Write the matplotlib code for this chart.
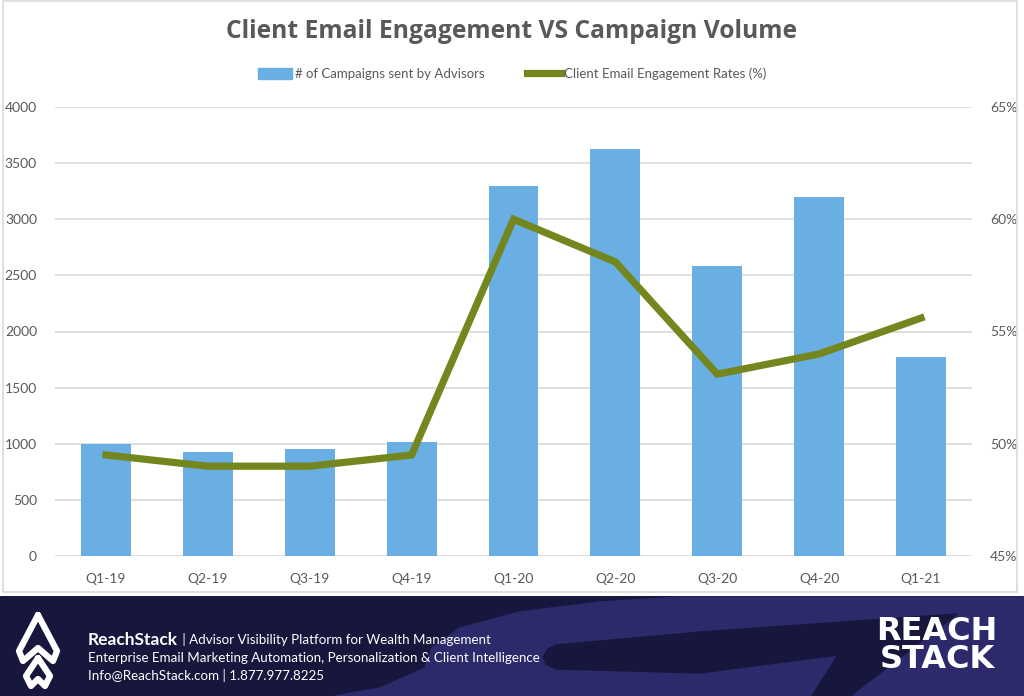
import matplotlib
matplotlib.use("Agg")
import matplotlib.pyplot as plt
import matplotlib.transforms as mtrans
from matplotlib.patches import Polygon, Rectangle
from matplotlib.lines import Line2D
from matplotlib.ticker import FuncFormatter

quarters = ["Q1-19", "Q2-19", "Q3-19", "Q4-19", "Q1-20", "Q2-20", "Q3-20", "Q4-20", "Q1-21"]
campaigns = [1000, 925, 955, 1015, 3300, 3630, 2580, 3195, 1775]
engagement = [49.5, 49.0, 49.0, 49.5, 60.0, 58.1, 53.1, 54.0, 55.6]

title = "Client Email Engagement VS Campaign Volume"
bar_label = "# of Campaigns sent by Advisors"
line_label = "Client Email Engagement Rates (%)"

BAR_C = "#69afe3"
LINE_C = "#74871f"
TXT_C = "#595959"
GRID_C = "#d9d9d9"
FONT = ["Lato", "DejaVu Sans"]

W, H = 1024, 696
fig = plt.figure(figsize=(W / 100, H / 100), dpi=100)
fig.patch.set_facecolor("white")

def fx(px):
    return px / W

def fy(py):
    return 1 - py / H

# outer chart border
fig.patches.append(Rectangle((fx(3), fy(592)), fx(1017) - fx(3), fy(1) - fy(592),
                             transform=fig.transFigure, fill=False, edgecolor=GRID_C, lw=1.2))

ax = fig.add_axes([fx(55), fy(556), fx(972) - fx(55), fy(107) - fy(556)])
x = list(range(len(quarters)))
ax.bar(x, campaigns, width=0.49, color=BAR_C, zorder=2, label=bar_label)
ax.set_xlim(-0.5, len(quarters) - 0.5)
ax.set_ylim(0, 4000)
ax.set_yticks(range(0, 4001, 500))
ax.yaxis.grid(True, color=GRID_C, lw=1.2, zorder=0)
ax.set_axisbelow(True)
for s in ax.spines.values():
    s.set_visible(False)
ax.tick_params(axis="both", length=0, colors=TXT_C, labelsize=10)
ax.tick_params(axis="y", pad=13)
ax.tick_params(axis="x", pad=12)
ax.set_xticks(x)
ax.set_xticklabels(quarters, family=FONT)
for t in ax.get_yticklabels():
    t.set_family(FONT)

ax2 = ax.twinx()
ax2.plot(x, engagement, color=LINE_C, lw=5.2, zorder=3, solid_joinstyle="miter", label=line_label)
ax2.set_ylim(45, 65)
ax2.set_yticks(range(45, 66, 5))
ax2.yaxis.set_major_formatter(FuncFormatter(lambda v, p: f"{int(v)}%"))
for s in ax2.spines.values():
    s.set_visible(False)
ax2.tick_params(axis="y", length=0, colors=TXT_C, labelsize=10, pad=13)
for t in ax2.get_yticklabels():
    t.set_family(FONT)

fig.text(0.5, fy(32), title, ha="center", va="center", fontsize=17.7, fontweight="bold",
         color=TXT_C, family=["Open Sans", "DejaVu Sans"])

handles = [Rectangle((0, 0), 1, 1, color=BAR_C), Line2D([0], [0], color=LINE_C, lw=5.2)]
fig.legend(handles, [bar_label, line_label], loc="center", bbox_to_anchor=(0.5, fy(74)),
           ncol=2, frameon=False, labelcolor=TXT_C, handlelength=2.6,
           handleheight=0.9, handletextpad=0.2, columnspacing=3.2,
           prop={"family": FONT, "size": 9.5})

# footer
fa = fig.add_axes([0, 0, 1, fy(596)])
fa.set_xlim(0, W)
fa.set_ylim(696, 596)
fa.axis("off")
DARK = "#17173d"
LIGHT = "#2c2a6b"
fa.add_patch(Rectangle((0, 596), W, 100, color=DARK, zorder=0))
fa.add_patch(Polygon([(335, 696), (380, 688), (425, 668), (432, 648), (460, 628), (520, 612),
                      (600, 602), (680, 597), (1024, 597), (1024, 696)],
                     closed=True, color=LIGHT, zorder=1))
fa.add_patch(Polygon([(543, 657), (548, 649), (556, 645), (700, 632), (800, 625), (957, 614),
                      (850, 696), (812, 696), (838, 655), (700, 673), (556, 669), (546, 664)],
                     closed=True, color=DARK, zorder=2))
# left icon
fa.plot([38, 19, 23, 38, 53, 57, 38], [615, 651, 661, 648, 661, 651, 615], color="white", lw=4.5,
        solid_capstyle="round", solid_joinstyle="round", zorder=3)
fa.plot([38, 26, 31, 38, 45, 50, 38], [658, 676, 686, 679, 686, 676, 658], color="white", lw=4.5,
        solid_capstyle="round", solid_joinstyle="round", zorder=3)

t1 = fa.text(88, 640, "ReachStack", color="white", fontsize=12.5, fontweight="bold",
             family=FONT, va="center", ha="left", zorder=4)
fig.canvas.draw()
x_end = t1.get_window_extent().x1
tr = mtrans.blended_transform_factory(mtrans.IdentityTransform(), fa.transData)
fa.text(x_end + 1, 640, " | Advisor Visibility Platform for Wealth Management", color="white",
        fontsize=9.6, family=FONT, va="center", ha="left", zorder=4, transform=tr)
fa.text(88, 658, "Enterprise Email Marketing Automation, Personalization & Client Intelligence",
        color="white", fontsize=9.6, family=FONT, va="center", ha="left", zorder=4)
fa.text(88, 675, "Info@ReachStack.com | 1.877.977.8225", color="white", fontsize=9.6,
        family=FONT, va="center", ha="left", zorder=4)
fa.text(937, 631, "REACH", color="white", fontsize=23, fontweight="bold",
        family=["DejaVu Sans"], va="center", ha="center", zorder=4)
fa.text(937, 660, "STACK", color="white", fontsize=23, fontweight="bold",
        family=["DejaVu Sans"], va="center", ha="center", zorder=4)

fig.savefig("out.png", dpi=100, facecolor="white")
